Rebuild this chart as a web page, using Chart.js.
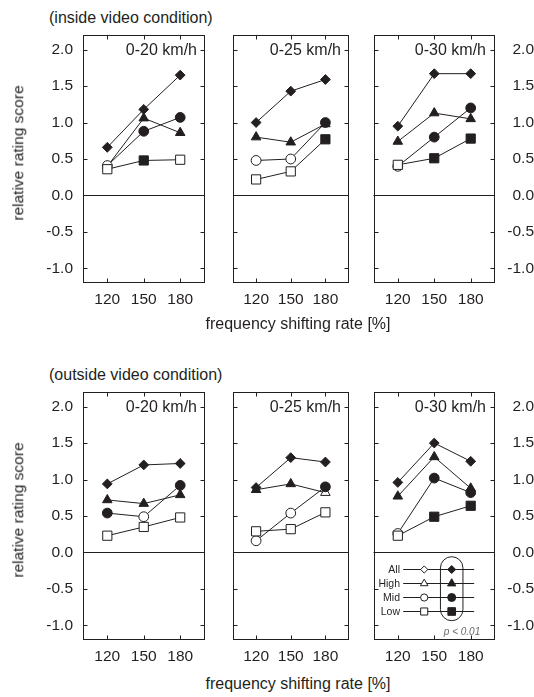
<!DOCTYPE html>
<html><head><meta charset="utf-8">
<script src="https://cdn.jsdelivr.net/npm/chart.js@4/dist/chart.umd.min.js"></script>
<style>
html,body{margin:0;padding:0;background:#fff;}
#page{position:relative;width:534px;height:697px;overflow:hidden;background:#fff;font-family:"Liberation Sans",Arial,Helvetica,sans-serif;color:#231f20;}
.t{position:absolute;white-space:nowrap;line-height:1;}
canvas{position:absolute;}
</style></head><body><div id="page"></div>
<script>
// ---------- data ----------
const frequencies = [120, 150, 180];
const speedRanges = ['0-20 km/h', '0-25 km/h', '0-30 km/h'];
const conditionTitles = ['(inside video condition)', '(outside video condition)'];
const seriesNames = ['All', 'High', 'Mid', 'Low'];
const yTickValues = [-1.0, -0.5, 0.0, 0.5, 1.0, 1.5, 2.0];
const yTitle = 'relative rating score';
const xTitle = 'frequency shifting rate [%]';
const pValueNote = 'p < 0.01';

// values per speed range (rows) at 120/150/180 %
const insideAll  = [[0.66, 1.18, 1.65], [1.00, 1.43, 1.59], [0.95, 1.67, 1.67]];
const insideHigh = [[0.40, 1.06, 0.86], [0.80, 0.73, 0.98], [0.74, 1.13, 1.05]];
const insideMid  = [[0.41, 0.88, 1.07], [0.48, 0.50, 1.00], [0.40, 0.80, 1.20]];
const insideLow  = [[0.36, 0.48, 0.49], [0.22, 0.33, 0.77], [0.42, 0.51, 0.78]];

const outsideAll  = [[0.94, 1.20, 1.22], [0.89, 1.30, 1.24], [0.96, 1.50, 1.25]];
const outsideHigh = [[0.72, 0.67, 0.79], [0.86, 0.94, 0.82], [0.77, 1.31, 0.88]];
const outsideMid  = [[0.54, 0.49, 0.92], [0.16, 0.54, 0.90], [0.26, 1.02, 0.82]];
const outsideLow  = [[0.23, 0.35, 0.48], [0.29, 0.32, 0.55], [0.23, 0.49, 0.64]];

// significance (p < 0.01) flags: 1 = filled marker
const insideAllSig  = [[1, 1, 1], [1, 1, 1], [1, 1, 1]];
const insideHighSig = [[0, 1, 1], [1, 1, 1], [1, 1, 1]];
const insideMidSig  = [[0, 1, 1], [0, 0, 1], [0, 1, 1]];
const insideLowSig  = [[0, 1, 0], [0, 0, 1], [0, 1, 1]];

const outsideAllSig  = [[1, 1, 1], [1, 1, 1], [1, 1, 1]];
const outsideHighSig = [[1, 1, 1], [1, 1, 0], [1, 1, 1]];
const outsideMidSig  = [[1, 0, 1], [0, 0, 1], [0, 1, 1]];
const outsideLowSig  = [[0, 0, 0], [0, 0, 0], [0, 1, 1]];

const conditionValues = [[insideAll, insideHigh, insideMid, insideLow], [outsideAll, outsideHigh, outsideMid, outsideLow]];
const conditionSig = [[insideAllSig, insideHighSig, insideMidSig, insideLowSig], [outsideAllSig, outsideHighSig, outsideMidSig, outsideLowSig]];

// ---------- style ----------
const INK = '#231f20';
const FONT = '"Liberation Sans", Arial, Helvetica, sans-serif';
const pointStyles = ['rectRot', 'triangle', 'circle', 'rect'];
const pointRadii = [4.9, 5.5, 4.9, 6.5];
const legendRadii = [3.6, 4.4, 3.6, 5.0];

const BOX_LEFT = [83, 227, 372];
const BOX_W = 123;
const ROW_TOP = [35, 392];
const BOX_H = 248;

const page = document.getElementById('page');
function addText(txt, css) {
  const d = document.createElement('div');
  d.className = 't';
  d.textContent = txt;
  Object.assign(d.style, css);
  page.appendChild(d);
  return d;
}

const framePlugin = {
  id: 'frame',
  beforeDatasetsDraw(chart) {
    const { ctx, chartArea: a, scales: { y } } = chart;
    ctx.save();
    ctx.strokeStyle = INK; ctx.lineWidth = 1;
    const y0 = Math.round(y.getPixelForValue(0)) + 0.5;
    ctx.beginPath(); ctx.moveTo(a.left, y0); ctx.lineTo(a.right, y0); ctx.stroke();
    ctx.restore();
  },
  afterDraw(chart) {
    const { ctx, chartArea: a, scales: { x, y } } = chart;
    const L = Math.round(a.left) + 0.5, R = Math.round(a.right) - 0.5;
    const T = Math.round(a.top) + 0.5, B = Math.round(a.bottom) - 0.5;
    ctx.save();
    ctx.strokeStyle = INK; ctx.lineWidth = 1;
    ctx.strokeRect(L, T, R - L, B - T);
    const tl = 4;
    ctx.beginPath();
    yTickValues.forEach(v => {
      const py = Math.round(y.getPixelForValue(v)) + 0.5;
      ctx.moveTo(L, py); ctx.lineTo(L + tl, py);
      ctx.moveTo(R, py); ctx.lineTo(R - tl, py);
    });
    frequencies.forEach(v => {
      const px = Math.round(x.getPixelForValue(v)) + 0.5;
      ctx.moveTo(px, T); ctx.lineTo(px, T + tl);
      ctx.moveTo(px, B); ctx.lineTo(px, B - tl);
    });
    ctx.stroke();
    ctx.restore();
  }
};

function drawMarker(ctx, style, r, x, y, filled) {
  ctx.fillStyle = filled ? INK : '#fff';
  ctx.strokeStyle = INK; ctx.lineWidth = 1;
  if (Chart.helpers && Chart.helpers.drawPoint) {
    Chart.helpers.drawPoint(ctx, { pointStyle: style, radius: r, rotation: 0, borderWidth: 1 }, x, y);
  }
}

const legendPlugin = {
  id: 'keyBox',
  afterDraw(chart) {
    const { ctx, chartArea: a } = chart;
    const rowsY = [177.3, 191.3, 204.7, 218.7];
    const lineX0 = a.left + 29.7, lineX1 = a.left + 100.7;
    const openX = a.left + 50.7, fillX = a.left + 78.2;
    ctx.save();
    ctx.strokeStyle = INK; ctx.lineWidth = 1;
    rowsY.forEach(ry => {
      const yy = Math.round(a.top + ry) + 0.5;
      ctx.beginPath(); ctx.moveTo(lineX0, yy); ctx.lineTo(lineX1, yy); ctx.stroke();
    });
    // rounded enclosure
    const sx = fillX, w = 22.5, top = a.top + 164.7, bot = a.top + 228.7, rr = w / 2;
    ctx.beginPath();
    ctx.moveTo(sx - rr, top + rr);
    ctx.arc(sx, top + rr, rr, Math.PI, 0);
    ctx.lineTo(sx + rr, bot - rr);
    ctx.arc(sx, bot - rr, rr, 0, Math.PI);
    ctx.closePath();
    ctx.stroke();
    rowsY.forEach((ry, k) => {
      const yy = Math.round(a.top + ry) + 0.5;
      drawMarker(ctx, pointStyles[k], legendRadii[k], openX, yy, false);
      drawMarker(ctx, pointStyles[k], legendRadii[k] + 0.4, fillX, yy, true);
    });
    ctx.restore();
  }
};

// ---------- panels ----------
const TICK_FONT = { family: FONT, size: 15.5 };
for (let r = 0; r < 2; r++) {
  addText(conditionTitles[r], { left: '49px', top: (ROW_TOP[r] - 25) + 'px', fontSize: '16px' });
  for (let c = 0; c < 3; c++) {
    const padL = c === 0 ? 60 : 6, padR = c === 2 ? 39 : 6, padT = 12, padB = 34;
    const cv = document.createElement('canvas');
    const W = padL + BOX_W + padR, H = padT + BOX_H + padB;
    cv.width = W; cv.height = H;
    cv.style.left = (BOX_LEFT[c] - padL) + 'px';
    cv.style.top = (ROW_TOP[r] - padT) + 'px';
    cv.style.width = W + 'px'; cv.style.height = H + 'px';
    page.appendChild(cv);

    const datasets = seriesNames.map((name, k) => ({
      label: name,
      data: frequencies.map((f, i) => ({ x: f, y: conditionValues[r][k][c][i] })),
      borderColor: INK,
      borderWidth: 1,
      pointStyle: pointStyles[k],
      pointRadius: pointRadii[k],
      pointBorderColor: INK,
      pointBorderWidth: 1,
      pointBackgroundColor: conditionSig[r][k][c].map(s => s ? INK : '#ffffff'),
      fill: false,
      tension: 0,
      clip: false,
      order: 4 - k
    }));

    const plugins = [framePlugin];
    if (r === 1 && c === 2) plugins.push(legendPlugin);

    new Chart(cv, {
      type: 'line',
      data: { datasets },
      plugins,
      options: {
        responsive: false,
        animation: false,
        devicePixelRatio: 1,
        layout: { padding: { left: c === 0 ? 0 : padL, right: c === 2 ? 0 : padR, top: padT, bottom: 0 } },
        plugins: { legend: { display: false }, tooltip: { enabled: false } },
        events: [],
        scales: {
          x: {
            type: 'linear', min: 100, max: 200,
            afterBuildTicks: s => { s.ticks = frequencies.map(v => ({ value: v })); },
            afterFit: s => { s.height = padB; s.paddingLeft = 0; s.paddingRight = 0; },
            ticks: { font: TICK_FONT, color: INK, padding: 7, autoSkip: false, maxRotation: 0, callback: v => String(v) },
            grid: { display: false, drawTicks: false },
            border: { display: false }
          },
          y: {
            type: 'linear', min: -1.2, max: 2.2,
            position: c === 2 ? 'right' : 'left',
            display: c !== 1,
            afterBuildTicks: s => { s.ticks = yTickValues.map(v => ({ value: v })); },
            afterFit: s => { s.width = c === 0 ? padL : padR; s.paddingTop = 0; s.paddingBottom = 0; },
            ticks: { font: TICK_FONT, color: INK, padding: c === 0 ? 10 : 6.5, crossAlign: c === 2 ? 'far' : 'near', autoSkip: false, callback: v => Number(v).toFixed(1) },
            grid: { display: false, drawTicks: false },
            border: { display: false }
          }
        }
      }
    });

    // speed range label inside the panel
    addText(speedRanges[c], {
      left: (BOX_LEFT[c] + BOX_W - 9) + 'px', top: (ROW_TOP[r] + 14.5) + 'px',
      transform: 'translate(-100%,-50%)', fontSize: '16px'
    });
  }
  // axis titles
  addText(yTitle, {
    left: '18px', top: (r === 0 ? 153 : 510) + 'px',
    transform: 'translate(-50%,-50%) rotate(-90deg)', fontSize: '15.5px'
  });
  addText(xTitle, {
    left: '298px', top: (r === 0 ? 324 : 684) + 'px',
    transform: 'translate(-50%,-50%)', fontSize: '16px'
  });
}

// legend text
const legendRowsAbs = [569.3, 583.3, 596.7, 610.7];
seriesNames.forEach((n, k) => {
  addText(n, { left: '400px', top: legendRowsAbs[k] + 'px', transform: 'translate(-100%,-50%)', fontSize: '10.5px' });
});
addText(pValueNote, { left: '462px', top: '631.5px', transform: 'translate(-50%,-50%)', fontSize: '10px', fontStyle: 'italic', color: '#6b6b6b' });
</script></body></html>
